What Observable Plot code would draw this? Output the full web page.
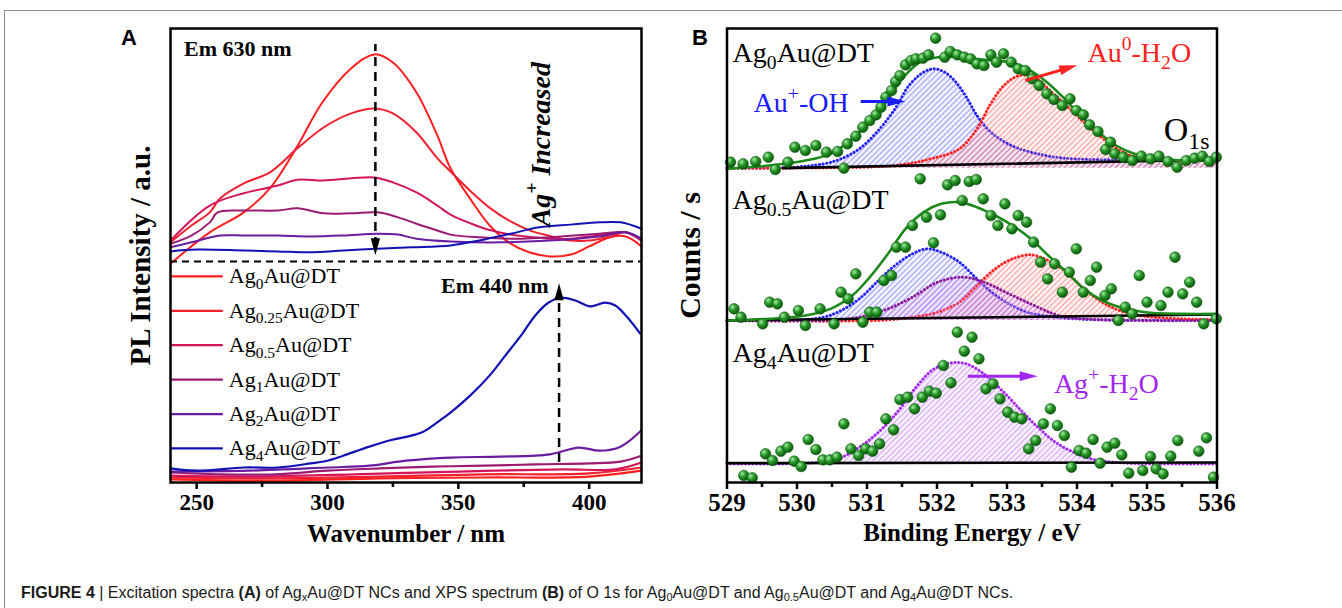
<!DOCTYPE html>
<html><head><meta charset="utf-8">
<script src="https://cdn.jsdelivr.net/npm/d3@7"></script>
<script src="https://cdn.jsdelivr.net/npm/@observablehq/plot@0.6"></script>
<style>
body{margin:0;background:#fff;}
#page{position:relative;width:1342px;height:608px;overflow:hidden;background:#fff;}
#border{position:absolute;left:4px;top:10px;right:-2px;bottom:-2px;border-top:1px solid #8a8a8a;border-left:1px solid #8a8a8a;}
.plabel{position:absolute;font:bold 22px "Liberation Sans",Arial,sans-serif;line-height:22px;}
#panelA{position:absolute;left:0;top:0;}
#panelB{position:absolute;left:660px;top:0;}
#caption{position:absolute;left:21px;top:584px;font:16px "Liberation Sans",Arial,sans-serif;color:#1a1a1a;white-space:nowrap;}
#caption sub{font-size:11px;vertical-align:-3px;line-height:0;}
</style></head>
<body>
<div id="page">
  <div id="border"></div>
  <div id="panelA"></div>
  <div id="panelB"></div>
  <div class="plabel" style="left:121px;top:27px">A</div>
  <div class="plabel" style="left:692px;top:27px">B</div>
  <div id="caption"><b>FIGURE 4</b> | Excitation spectra <b>(A)</b> of Ag<sub>x</sub>Au@DT NCs and XPS spectrum <b>(B)</b> of O 1s for Ag<sub>0</sub>Au@DT and Ag<sub>0.5</sub>Au@DT and Ag<sub>4</sub>Au@DT NCs.</div>
</div>
<script>
// ---------------- Panel A data (wavenumber nm, PL intensity a.u.) ----------------
const seriesNames = ["Ag_{0}Au@DT","Ag_{0.25}Au@DT","Ag_{0.5}Au@DT","Ag_{1}Au@DT","Ag_{2}Au@DT","Ag_{4}Au@DT"];
const wavenumberTicks = [250, 300, 350, 400];
const wavenumberMinor = [275, 325, 375];

const em630Ag0 = [[240,48.2],[255,55.1],[268,59.5],[278,64.8],[288,73.6],[298,83.7],[309,91.2],[318,94.3],[325,92.5],[334,85.9],[342,76.4],[347,69.2],[355,62.1],[362,56.6],[370,52.6],[377,50.7],[385,49.8],[393,50.2],[400,52.0],[408,54.0],[414,54.2],[420,52.0]];
const em630Ag025 = [[240,52.9],[248,56.6],[255,59.5],[259,62.6],[268,65.9],[278,68.3],[288.5,73.6],[298.5,78.2],[309,81.3],[318,82.4],[325,81.3],[334,77.1],[342,71.4],[347,68.5],[355,64.0],[362,60.5],[370,57.5],[377,55.6],[385,54.3],[393,53.3],[400,53.3],[408,54.2],[414,55.1],[420,53.3]];
const em630Ag05 = [[240,53.3],[255,61.0],[268,63.7],[281,65.4],[288.5,66.7],[298.5,66.5],[309,67.0],[318,67.2],[325,66.1],[334,63.9],[342,61.0],[347,59.0],[355,57.0],[362,55.6],[370,54.6],[377.5,54.1],[385,53.7],[393,53.7],[400,54.2],[408,54.8],[414,55.1],[420,53.3]];
const em630Ag1 = [[240,52.6],[248,54.4],[255,57.3],[258,59.5],[268,59.9],[281,59.9],[288.5,60.4],[298.5,59.3],[309,59.3],[319,59.5],[327,58.4],[334,57.0],[342,55.5],[347,54.6],[358,54.0],[374,53.7],[389,54.2],[404,54.8],[414,55.1],[420,53.3]];
const em630Ag2 = [[240,51.8],[248,52.9],[259,54.4],[268,54.4],[281,54.4],[293.5,54.2],[306,54.4],[319,54.8],[327,54.6],[334,53.7],[347,53.1],[366,52.9],[385,53.3],[404,54.2],[414,55.1],[420,53.7]];
const em630Ag4 = [[240,50.9],[250,51.3],[268,51.1],[281,50.9],[293.5,50.7],[306,51.1],[319,51.5],[332,51.8],[347,52.2],[358,53.3],[370,54.8],[381,56.2],[393,56.8],[404,57.3],[412,57.3],[420,55.9]];

const em440Ag0 = [[240,0.7],[280,0.4],[320,0.9],[360,1.1],[400,1.3],[420,2.6]];
const em440Ag025 = [[240,1.1],[280,0.9],[320,1.3],[360,1.8],[400,2.0],[420,3.3]];
const em440Ag05 = [[240,1.5],[270,1.3],[310,1.8],[350,2.4],[390,2.9],[410,2.9],[420,4.4]];
const em440Ag1 = [[240,2.2],[260,1.8],[280,1.8],[300,2.6],[320,3.1],[340,3.5],[360,3.7],[380,4.0],[400,4.2],[412,4.6],[420,5.9]];
const em440Ag2 = [[240,2.4],[270,2.6],[300,3.3],[316,3.7],[330,4.8],[347,5.5],[366,5.7],[385,6.2],[396,7.7],[404,7.0],[412,7.9],[420,11.5]];
const em440Ag4 = [[240,3.1],[250,2.6],[268,3.3],[281,3.3],[293.5,4.2],[300,4.8],[306,5.9],[316,7.9],[324,9.3],[330.5,10.1],[336.6,11.2],[343,13.7],[347,15.4],[354.6,19.2],[362,23.6],[368,28.0],[374,32.4],[379.4,36.8],[384.4,39.6],[389,40.7],[394.7,40.1],[400.4,38.8],[406,39.6],[410,39.0],[415.6,35.7],[419.5,32.8]];

// ---------------- Panel B data (binding energy eV, counts/s) ----------------
const bindingTicks = [529, 530, 531, 532, 533, 534, 535, 536];
const bindingMinor = [529.5, 530.5, 531.5, 532.5, 533.5, 534.5, 535.5];

const ag0Dots = [[529.05,961],[529.23,956],[529.41,963],[529.59,976],[529.69,939],[529.87,961],[529.97,1006],[530.12,996],[530.27,1011],[530.42,991],[530.58,993],[530.67,943],[530.72,1016],[530.84,1039],[530.94,1066],[531.04,1086],[531.13,1103],[531.20,1126],[531.27,1156],[531.35,1176],[531.41,1203],[531.47,1221],[531.55,1253],[531.63,1266],[531.70,1271],[531.80,1273],[531.88,1283],[531.98,1333],[532.11,1276],[532.19,1293],[532.29,1283],[532.39,1276],[532.48,1271],[532.57,1256],[532.67,1251],[532.77,1283],[532.85,1261],[532.95,1286],[533.06,1261],[533.16,1241],[533.26,1236],[533.36,1211],[533.46,1191],[533.57,1166],[533.67,1149],[533.79,1131],[533.90,1151],[533.99,1116],[534.09,1103],[534.18,1073],[534.30,1053],[534.41,999],[534.48,1021],[534.54,986],[534.66,976],[534.79,966],[534.92,979],[535.05,971],[535.17,979],[535.30,963],[535.43,946],[535.56,966],[535.68,973],[535.79,979],[535.89,963],[535.99,976]];
const ag0Envelope = [[529.0,941],[529.6,951],[530.12,966],[530.48,986],[530.73,1021],[530.99,1071],[531.24,1131],[531.50,1211],[531.76,1261],[532.01,1276],[532.27,1276],[532.52,1271],[532.78,1266],[533.03,1261],[533.29,1241],[533.54,1206],[533.80,1156],[534.05,1101],[534.31,1051],[534.56,1011],[534.82,986],[535.12,971],[535.58,966],[536.0,966]];
const ag0AuOH = [[529.0,943],[529.87,945],[530.38,956],[530.63,971],[530.89,1001],[531.14,1051],[531.40,1121],[531.60,1191],[531.81,1231],[531.96,1241],[532.11,1231],[532.27,1201],[532.42,1156],[532.57,1101],[532.72,1061],[532.93,1026],[533.18,1001],[533.44,986],[533.69,976],[533.95,971],[534.46,968],[535.0,966],[536.0,966]];
const ag0AuH2O = [[529.0,943],[529.87,943],[531.40,951],[531.91,971],[532.32,1001],[532.57,1061],[532.78,1141],[532.98,1196],[533.18,1221],[533.39,1216],[533.64,1171],[533.90,1121],[534.15,1071],[534.41,1026],[534.71,986],[534.97,971],[535.48,966],[536.0,966]];
const ag0Baseline = [[529.8,943],[535.4,966]];

const ag05Dots = [[529.10,521],[529.20,496],[529.51,476],[529.61,541],[529.72,536],[529.82,496],[530.02,516],[530.12,471],[530.33,521],[530.53,476],[530.63,571],[530.73,551],[530.84,626],[530.94,481],[531.04,511],[531.14,511],[531.24,606],[531.35,621],[531.42,706],[531.55,706],[531.65,771],[531.76,911],[531.85,796],[531.95,719],[532.05,803],[532.15,893],[532.26,906],[532.36,846],[532.46,903],[532.56,909],[532.66,851],[532.77,801],[532.87,771],[532.97,836],[533.07,761],[533.16,801],[533.28,781],[533.38,721],[533.48,661],[533.58,611],[533.68,656],[533.79,571],[533.89,631],[533.99,701],[534.09,571],[534.19,606],[534.28,646],[534.40,561],[534.49,581],[534.59,486],[534.69,526],[534.79,506],[534.89,621],[535.00,541],[535.20,531],[535.30,571],[535.40,676],[535.51,566],[535.61,601],[535.71,541],[535.81,476],[535.99,491]];
const ag05Envelope = [[529.0,486],[529.61,491],[530.12,501],[530.48,521],[530.79,561],[531.04,616],[531.30,686],[531.55,761],[531.81,811],[532.06,836],[532.32,841],[532.57,826],[532.83,801],[533.08,771],[533.34,731],[533.59,681],[533.85,631],[534.10,581],[534.36,546],[534.61,526],[534.97,511],[535.48,506],[536.0,506]];
const ag05AuOH = [[529.0,486],[529.87,486],[530.38,496],[530.63,516],[530.89,551],[531.14,601],[531.40,651],[531.65,686],[531.86,701],[532.06,691],[532.32,661],[532.57,611],[532.78,571],[533.03,536],[533.29,511],[533.69,496],[534.20,489],[536.0,486]];
const ag05AgH2O = [[529.0,486],[530.38,486],[530.89,496],[531.30,521],[531.65,556],[532.01,601],[532.37,616],[532.67,601],[533.03,566],[533.39,531],[533.74,501],[534.20,489],[536.0,486]];
const ag05AuH2O = [[529.0,486],[531.14,486],[531.65,496],[532.01,511],[532.32,541],[532.57,591],[532.83,641],[533.08,671],[533.34,683],[533.59,666],[533.85,631],[534.10,581],[534.36,541],[534.61,516],[534.97,499],[535.48,491],[536.0,489]];
const ag05Baseline = [[529.0,486],[536.0,504]];

const ag4Dots = [[529.24,21],[529.36,14],[529.55,86],[529.65,66],[529.77,94],[529.87,106],[529.96,64],[530.06,48],[530.16,129],[530.27,99],[530.37,68],[530.47,68],[530.57,76],[530.67,176],[530.77,101],[530.88,81],[530.98,101],[531.08,94],[531.18,116],[531.27,191],[531.38,158],[531.47,249],[531.58,256],[531.68,221],[531.79,256],[531.89,274],[531.99,268],[532.09,351],[532.20,299],[532.29,451],[532.39,394],[532.50,436],[532.60,371],[532.70,281],[532.80,296],[532.90,251],[533.01,211],[533.11,196],[533.21,191],[533.31,101],[533.41,126],[533.52,176],[533.62,221],[533.72,171],[533.82,141],[533.92,46],[534.03,96],[534.13,88],[534.23,129],[534.33,58],[534.43,106],[534.54,118],[534.64,83],[534.74,28],[534.94,36],[535.05,78],[535.13,41],[535.23,26],[535.34,79],[535.44,126],[535.74,94],[535.85,134],[535.95,16]];
const ag4AgH2O = [[529.0,56],[530.12,58],[530.58,71],[530.89,106],[531.19,156],[531.45,216],[531.70,286],[531.96,341],[532.21,359],[532.42,356],[532.67,326],[532.93,276],[533.18,221],[533.44,166],[533.69,121],[533.95,91],[534.20,71],[534.71,58],[536.0,56]];
const ag4Baseline = [[529.0,58],[536.0,60]];

// ---------------- styles ----------------
const seriesColors = ["#ff1f1f","#f2202f","#d4155a","#9c1a72","#6a1ca0","#1212b4"];
const serif = "'Liberation Serif','Times New Roman',serif";
const X = d => d[0], Y = d => d[1];

// filled arrow head, pointing right before rotation
const head = { draw(ctx, size) { const r = Math.sqrt(size / Math.PI); ctx.moveTo(r, 0); ctx.lineTo(-r, -0.55 * r); ctx.lineTo(-r, 0.55 * r); ctx.closePath(); } };

// ---------------- Panel A ----------------
const em630 = [em630Ag0, em630Ag025, em630Ag05, em630Ag1, em630Ag2, em630Ag4];
const em440 = [em440Ag0, em440Ag025, em440Ag05, em440Ag1, em440Ag2, em440Ag4];
const legendTop = 45.4, legendStep = 7.58;
const marksA = [];
seriesNames.forEach((name, i) => {
  const c = seriesColors[i];
  marksA.push(Plot.line(em630[i], {x: X, y: Y, stroke: c, strokeWidth: 2, curve: "catmull-rom"}));
  marksA.push(Plot.line(em440[i], {x: X, y: Y, stroke: c, strokeWidth: 2.2, curve: "catmull-rom"}));
  const ly = legendTop - i * legendStep;
  marksA.push(Plot.link([name], {x1: 240, x2: 260, y1: ly, y2: ly, stroke: c, strokeWidth: 2.2}));
  marksA.push(Plot.text([name], {x: 262.3, y: ly, text: d => d, textAnchor: "start", lineAnchor: "middle", fontSize: 22}));
});

const plotA = Plot.plot({
  width: 660, height: 560,
  marginLeft: 170, marginRight: 19, marginTop: 28, marginBottom: 78,
  x: {domain: [240, 420]},
  y: {domain: [0, 100], axis: null},
  style: {fontFamily: serif, color: "#000", background: "transparent", overflow: "visible"},
  marks: [
    ...marksA,
    Plot.ruleY([48.7], {stroke: "#000", strokeWidth: 2, strokeDasharray: "7,5"}),
    Plot.ruleX([318.3], {y1: 52, y2: 96.5, stroke: "#000", strokeWidth: 2.5, strokeDasharray: "9,6"}),
    Plot.dot([[318.3, 51.9]], {x: X, y: Y, symbol: head, r: 8.5, rotate: 90, fill: "#000", stroke: "none"}),
    Plot.ruleX([388.5], {y1: 4.4, y2: 42, stroke: "#000", strokeWidth: 2.5, strokeDasharray: "9,6"}),
    Plot.dot([[388.5, 42.0]], {x: X, y: Y, symbol: head, r: 8.5, rotate: -90, fill: "#000", stroke: "none"}),
    Plot.text(["Em 630 nm"], {x: 245.2, y: 95.6, text: d => d, textAnchor: "start", lineAnchor: "middle", fontSize: 22, fontWeight: "bold"}),
    Plot.text(["Em 440 nm"], {x: 343.4, y: 43.4, text: d => d, textAnchor: "start", lineAnchor: "middle", fontSize: 22, fontWeight: "bold"}),
    Plot.text(["Ag^{+} Increased"], {x: 381.6, y: 74.5, text: d => d, rotate: -90, textAnchor: "middle", lineAnchor: "middle", fontSize: 28, fontWeight: "bold", fontStyle: "italic"}),
    Plot.axisX({ticks: wavenumberTicks, tickSize: 7, tickPadding: 4, tickFormat: d => d, fontSize: 23, fontWeight: "bold", strokeWidth: 2.5, label: null}),
    Plot.axisX({ticks: wavenumberMinor, tickSize: 5, strokeWidth: 2.5, text: null, label: null}),
    Plot.frame({stroke: "#000", strokeWidth: 2.5}),
    Plot.text(["Wavenumber / nm"], {frameAnchor: "bottom", dy: 51, text: d => d, lineAnchor: "middle", fontSize: 25, fontWeight: "bold"}),
    Plot.text(["PL Intensity / a.u."], {frameAnchor: "left", dx: -30, rotate: -90, text: d => d, textAnchor: "middle", lineAnchor: "middle", fontSize: 29, fontWeight: "bold"})
  ]
});

// ---------------- Panel B ----------------
const green = "#1b8a1b", blue = "#2222ff", red = "#ff2020", violet = "#a126f0", plum = "#8b1a9b";
function component(data, base, line, fill) {
  return [
    Plot.areaY(data, {x: X, y1: base, y2: Y, fill, curve: "catmull-rom"}),
    Plot.line(data, {x: X, y: Y, stroke: line, strokeWidth: 3, strokeDasharray: "0.1,3.6", strokeLinecap: "round", curve: "catmull-rom"})
  ];
}
function dots(data) { return Plot.dot(data, {x: X, y: Y, r: 5.3, fill: "url(#ballGrad)", stroke: "#0b560b", strokeWidth: 0.6}); }
function envelope(data) { return Plot.line(data, {x: X, y: Y, stroke: green, strokeWidth: 2.6, curve: "catmull-rom"}); }
function baseline(data) { return Plot.line(data, {x: X, y: Y, stroke: "#000", strokeWidth: 2.6}); }
function label(t, x, y, size, color) { return Plot.text([t], {x, y, text: d => d, textAnchor: "start", lineAnchor: "bottom", fontSize: size, fill: color || "#000"}); }
function arrowB(x1, y1, hx, hy, rot, color) {
  return [
    Plot.link([0], {x1, y1, x2: hx, y2: hy, stroke: color, strokeWidth: 3}),
    Plot.dot([[hx, hy]], {x: X, y: Y, symbol: head, r: 9, rotate: rot, fill: color, stroke: "none"})
  ];
}

const plotB = Plot.plot({
  width: 682, height: 560,
  marginLeft: 66.5, marginRight: 125.5, marginTop: 28, marginBottom: 78,
  x: {domain: [529, 536]},
  y: {domain: [0, 1362], axis: null},
  style: {fontFamily: serif, color: "#000", background: "transparent", overflow: "visible"},
  marks: [
    ...component(ag0AuOH, 943, blue, "url(#hatchBlue)"),
    ...component(ag0AuH2O, 943, red, "url(#hatchRed)"),
    baseline(ag0Baseline),
    envelope(ag0Envelope),
    dots(ag0Dots),
    ...component(ag05AuOH, 486, blue, "url(#hatchBlue)"),
    ...component(ag05AuH2O, 486, red, "url(#hatchRed)"),
    ...component(ag05AgH2O, 486, plum, "url(#hatchViolet)"),
    baseline(ag05Baseline),
    envelope(ag05Envelope),
    dots(ag05Dots),
    ...component(ag4AgH2O, 56, violet, "url(#hatchViolet)"),
    baseline(ag4Baseline),
    dots(ag4Dots),
    label("Ag_{0}Au@DT", 529.08, 1261, 28),
    label("Au^{+}-OH", 529.38, 1113, 28, "#1a1aff"),
    ...arrowB(530.91, 1143, 531.42, 1143, 0, "#1a1aff"),
    label("Au^{0}-H_{2}O", 534.15, 1261, 28, red),
    ...arrowB(533.26, 1206, 533.88, 1244, -16, red),
    label("O_{1s}", 535.24, 1026, 34),
    label("Ag_{0.5}Au@DT", 529.08, 821, 28),
    label("Ag_{4}Au@DT", 529.08, 361, 28),
    label("Ag^{+}-H_{2}O", 533.67, 268, 28, violet),
    ...arrowB(532.44, 319, 533.31, 319, 0, violet),
    Plot.axisX({ticks: bindingTicks, tickSize: 7, tickPadding: 4, tickFormat: d => d, fontSize: 25, fontWeight: "bold", strokeWidth: 2.5, label: null}),
    Plot.axisX({ticks: bindingMinor, tickSize: 5, strokeWidth: 2.5, text: null, label: null}),
    Plot.frame({stroke: "#000", strokeWidth: 2.5}),
    Plot.text(["Binding Energy / eV"], {frameAnchor: "bottom", dy: 50, text: d => d, lineAnchor: "middle", fontSize: 25, fontWeight: "bold"}),
    Plot.text(["Counts / s"], {frameAnchor: "left", dx: -37, rotate: -90, text: d => d, textAnchor: "middle", lineAnchor: "middle", fontSize: 30, fontWeight: "bold"})
  ]
});

// ---------------- defs (hatch patterns, ball gradient) ----------------
function addDefs(svg) {
  const defs = d3.select(svg).insert("defs", ":first-child");
  const hatch = (id, line, bg) => {
    const p = defs.append("pattern").attr("id", id).attr("patternUnits", "userSpaceOnUse")
      .attr("width", 4).attr("height", 4).attr("patternTransform", "rotate(45)");
    p.append("rect").attr("width", 4).attr("height", 4).attr("fill", bg);
    p.append("line").attr("x1", 0).attr("y1", 0).attr("x2", 0).attr("y2", 4).attr("stroke", line).attr("stroke-width", 1.3);
  };
  hatch("hatchBlue", "#6a6aff", "rgba(110,110,255,0.10)");
  hatch("hatchRed", "#ff6a6a", "rgba(255,110,110,0.10)");
  hatch("hatchViolet", "#c27af5", "rgba(194,122,245,0.12)");
  const g = defs.append("radialGradient").attr("id", "ballGrad").attr("cx", "0.35").attr("cy", "0.32").attr("r", "0.7");
  g.append("stop").attr("offset", "0").attr("stop-color", "#a6eca6");
  g.append("stop").attr("offset", "0.45").attr("stop-color", "#2a9a2a");
  g.append("stop").attr("offset", "1").attr("stop-color", "#0a560a");
}
addDefs(plotB);

// ---------------- sub/superscripts in SVG text ----------------
function richify(root) {
  const ns = "http://www.w3.org/2000/svg";
  root.querySelectorAll("text").forEach(t => {
    const s = t.textContent;
    if (!/[_^]\{/.test(s)) return;
    while (t.firstChild) t.removeChild(t.firstChild);
    let back = null;
    const add = (str, kind) => {
      if (!str) return;
      const sp = document.createElementNS(ns, "tspan");
      sp.textContent = str;
      if (kind === "_") { sp.setAttribute("font-size", "70%"); sp.setAttribute("dy", back ? "0.0em" : "0.35em"); back = "-0.245em"; }
      else if (kind === "^") { sp.setAttribute("font-size", "70%"); sp.setAttribute("dy", "-0.6em"); back = "0.42em"; }
      else { if (back) sp.setAttribute("dy", back); back = null; }
      t.appendChild(sp);
    };
    const re = /([_^])\{([^}]*)\}/g;
    let last = 0, m;
    while ((m = re.exec(s))) { add(s.slice(last, m.index)); add(m[2], m[1]); last = re.lastIndex; }
    add(s.slice(last));
  });
}
richify(plotA); richify(plotB);

document.getElementById("panelA").appendChild(plotA);
document.getElementById("panelB").appendChild(plotB);
</script>
</body></html>
